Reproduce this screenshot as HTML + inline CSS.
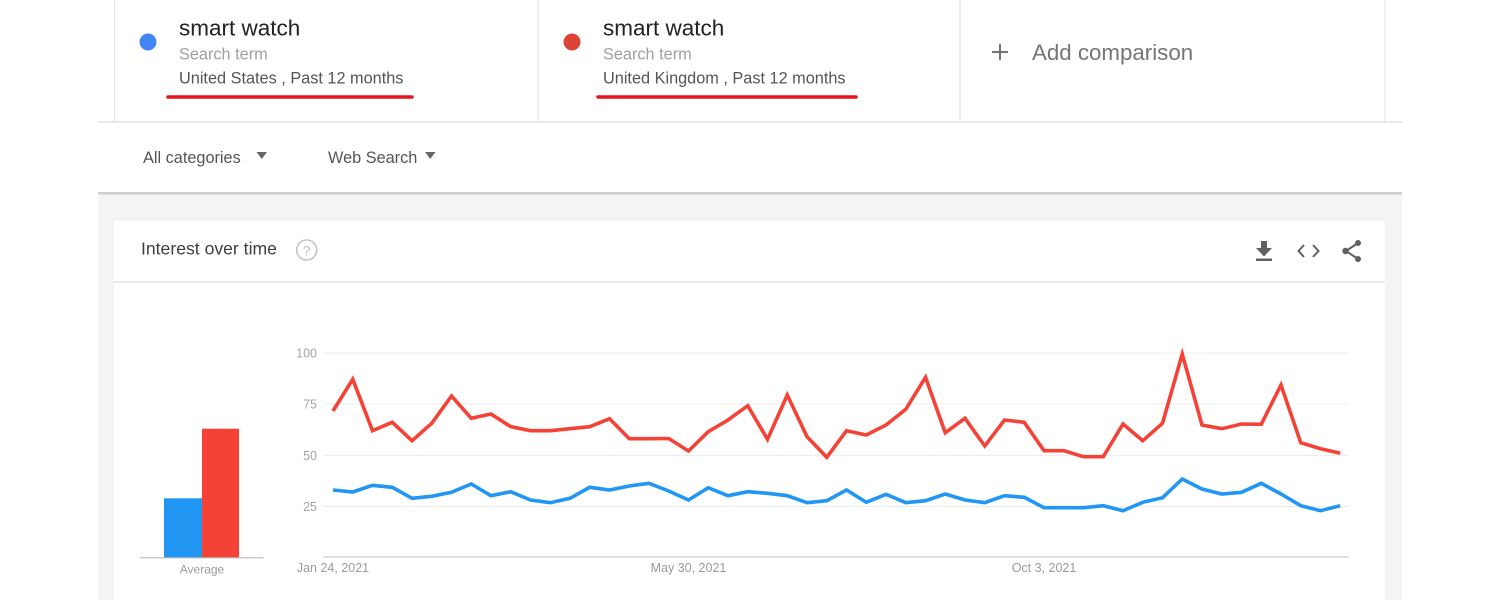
<!DOCTYPE html>
<html>
<head>
<meta charset="utf-8">
<style>
  html, body { margin:0; padding:0; background:#ffffff; }
  body { width:1500px; height:600px; overflow:hidden; }
  svg { display:block; font-family: "Liberation Sans", Arial, sans-serif; }
</style>
</head>
<body>
<svg width="1500" height="600" viewBox="0 0 1500 600" xmlns="http://www.w3.org/2000/svg">
  <rect x="0" y="0" width="1500" height="600" fill="#ffffff"/>

  <!-- top comparison cards -->
  <line x1="114.5" y1="0" x2="114.5" y2="122" stroke="#e0e0e0" stroke-width="1"/>
  <line x1="538" y1="0" x2="538" y2="122" stroke="#e0e0e0" stroke-width="1"/>
  <line x1="960" y1="0" x2="960" y2="122" stroke="#e0e0e0" stroke-width="1"/>
  <line x1="1385" y1="0" x2="1385" y2="122" stroke="#e0e0e0" stroke-width="1"/>
  <line x1="98" y1="122" x2="1402" y2="122" stroke="#e3e3e3" stroke-width="1.5"/>

  <circle cx="148" cy="42" r="8.5" fill="#4285f4"/>
  <text x="179" y="35.5" font-size="22.5" fill="#202124">smart watch</text>
  <text x="179" y="59.3" font-size="16.3" fill="#a0a0a0">Search term</text>
  <text x="179" y="83.5" font-size="16.3" fill="#555555">United States , Past 12 months</text>
  <line x1="168" y1="97" x2="412" y2="97" stroke="#e8141c" stroke-width="3.5" stroke-linecap="round"/>

  <circle cx="572" cy="42" r="8.5" fill="#db4437"/>
  <text x="603" y="35.5" font-size="22.5" fill="#202124">smart watch</text>
  <text x="603" y="59.3" font-size="16.3" fill="#a0a0a0">Search term</text>
  <text x="603" y="83.5" font-size="16.3" fill="#555555">United Kingdom , Past 12 months</text>
  <line x1="598" y1="97" x2="856" y2="97" stroke="#e8141c" stroke-width="3.5" stroke-linecap="round"/>

  <line x1="992" y1="52" x2="1008" y2="52" stroke="#757575" stroke-width="2"/>
  <line x1="1000" y1="44" x2="1000" y2="60" stroke="#757575" stroke-width="2"/>
  <text x="1032" y="60" font-size="22.3" fill="#757575">Add comparison</text>

  <!-- filter row -->
  <text x="143" y="163" font-size="16.3" fill="#555555">All categories</text>
  <polygon points="256.5,152 267,152 261.8,159" fill="#666666"/>
  <text x="328" y="163" font-size="16.3" fill="#555555">Web Search</text>
  <polygon points="425,152 435.5,152 430.2,159" fill="#666666"/>

  <!-- gray area -->
  <rect x="98" y="194" width="1304" height="406" fill="#f4f4f4"/>
  <rect x="98" y="192" width="1304" height="2.5" fill="#cfcfcf"/>

  <!-- chart card -->
  <rect x="114" y="221" width="1271" height="379" fill="#ffffff"/>
  <line x1="114" y1="282" x2="1385" y2="282" stroke="#e6e6e6" stroke-width="1.5"/>
  <text x="141" y="254.5" font-size="17.6" fill="#3c4043">Interest over time</text>
  <circle cx="306.7" cy="250" r="10" fill="none" stroke="#c6c6c6" stroke-width="1.6"/>
  <text x="306.7" y="255.5" font-size="14" fill="#c0c0c0" text-anchor="middle">?</text>

  <!-- header icons -->
  <g fill="#616161" stroke="none">
    <rect x="1261" y="241" width="6" height="8"/>
    <polygon points="1256,248 1272,248 1264,256.5"/>
    <rect x="1256" y="258.5" width="16" height="2.5"/>
  </g>
  <polyline points="1304,245 1298.5,251 1304,257" fill="none" stroke="#616161" stroke-width="2"/>
  <polyline points="1313,245 1318.5,251 1313,257" fill="none" stroke="#616161" stroke-width="2"/>
  <g fill="#616161" stroke="#616161" stroke-width="2">
    <line x1="1358" y1="243" x2="1346" y2="251"/>
    <line x1="1346" y1="251" x2="1358" y2="259"/>
    <circle cx="1358" cy="243" r="3" stroke="none"/>
    <circle cx="1345.5" cy="251" r="3.2" stroke="none"/>
    <circle cx="1358" cy="259" r="3" stroke="none"/>
  </g>

  <!-- average bars -->
  <rect x="164" y="498.3" width="38" height="59.2" fill="#2196f3"/>
  <rect x="202" y="428.7" width="37" height="128.8" fill="#f44336"/>
  <line x1="140" y1="557.8" x2="263.5" y2="557.8" stroke="#b8b8b8" stroke-width="1.2"/>
  <text x="202" y="573.5" font-size="12" fill="#9a9a9a" text-anchor="middle">Average</text>

  <!-- grid -->
  <g stroke="#ececec" stroke-width="1">
    <line x1="323" y1="353" x2="1349" y2="353"/>
    <line x1="323" y1="404" x2="1349" y2="404"/>
    <line x1="323" y1="455.5" x2="1349" y2="455.5"/>
    <line x1="323" y1="506.5" x2="1349" y2="506.5"/>
  </g>
  <line x1="323" y1="557" x2="1349" y2="557" stroke="#cccccc" stroke-width="1.2"/>

  <g font-size="12.5" fill="#a5a5a5" text-anchor="end">
    <text x="317" y="357.5">100</text>
    <text x="317" y="408.5">75</text>
    <text x="317" y="460">50</text>
    <text x="317" y="511">25</text>
  </g>
  <g font-size="12.5" fill="#9a9a9a" text-anchor="middle">
    <text x="333" y="572">Jan 24, 2021</text>
    <text x="688.5" y="572">May 30, 2021</text>
    <text x="1044" y="572">Oct 3, 2021</text>
  </g>

  <!-- red series -->
  <polyline fill="none" stroke="#f44336" stroke-width="3.6" stroke-linejoin="miter" stroke-miterlimit="10"
    points="333,411 352.75,379.3 372.5,430.7 392.25,422.3 412,440.7 431.75,423.3 451.5,396 471.25,418.3 491,414 510.75,426.7 530.5,430.7 550.25,430.7 570,428.7 589.75,426.7 609.5,418.7 629.25,438.7 649,438.7 668.75,438.5 688.5,451 708.25,431.7 728,420 747.75,405.7 767.5,439.3 787.25,395 807,436.7 826.75,457.3 846.5,430.7 866.25,435 886,425 905.75,409.3 925.5,377.3 945.25,432.7 965,418.3 984.75,446 1004.5,420 1024.25,422.3 1044,450.7 1063.75,450.7 1083.5,456.7 1103.25,456.7 1123,424 1142.75,440.7 1162.5,423.3 1182.25,354 1202,425 1221.75,428.7 1241.5,424 1261.25,424.3 1281,385 1300.75,442.7 1320.5,448.7 1340.25,453.3"/>

  <!-- blue series -->
  <polyline fill="none" stroke="#2196f3" stroke-width="3.6" stroke-linejoin="miter" stroke-miterlimit="10"
    points="333,490 352.75,492 372.5,485.3 392.25,487.3 412,498.3 431.75,496.3 451.5,492.3 471.25,484 491,495.7 510.75,491.7 530.5,500 550.25,502.7 570,498.3 589.75,487.3 609.5,490 629.25,486 649,483.3 668.75,491 688.5,500 708.25,487.7 728,495.7 747.75,491.7 767.5,493.3 787.25,495.7 807,502.7 826.75,500.7 846.5,490 866.25,502.3 886,494.3 905.75,502.7 925.5,500.7 945.25,494 965,500 984.75,502.7 1004.5,495.7 1024.25,497.3 1044,507.7 1063.75,507.7 1083.5,507.7 1103.25,505.7 1123,510.7 1142.75,502.3 1162.5,497.7 1182.25,479 1202,489 1221.75,494 1241.5,492.3 1261.25,483.3 1281,494 1300.75,505.7 1320.5,510.7 1340.25,505.7"/>
</svg>
</body>
</html>
